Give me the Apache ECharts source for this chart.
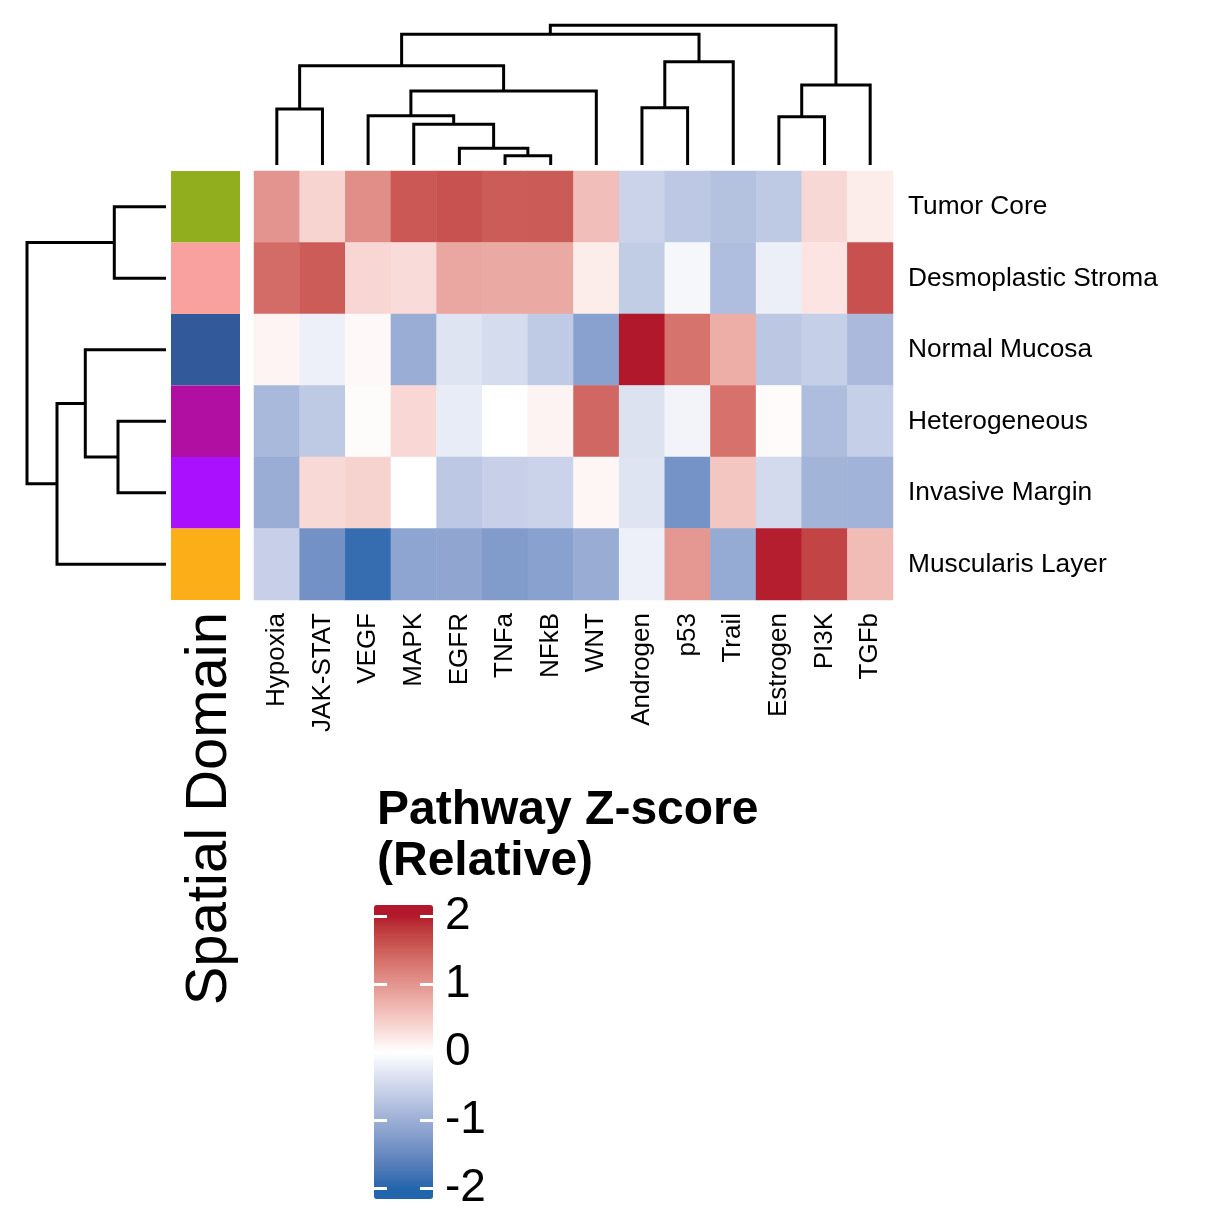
<!DOCTYPE html>
<html><head><meta charset="utf-8">
<script src="https://cdn.jsdelivr.net/npm/echarts@6/dist/echarts.min.js"></script>
<style>html,body{margin:0;padding:0;background:#fff}#c{width:1225px;height:1225px}</style>
</head><body><div id="c"></div>
<script>
// ---------------- data ----------------
const pathways = ['Hypoxia','JAK-STAT','VEGF','MAPK','EGFR','TNFa','NFkB','WNT','Androgen','p53','Trail','Estrogen','PI3K','TGFb'];
const domains = ['Tumor Core','Desmoplastic Stroma','Normal Mucosa','Heterogeneous','Invasive Margin','Muscularis Layer'];
const domainColors = ['#91ae1e','#f8a19f','#325a9b','#b10ea2','#aa10fe','#fbae17'];

const zTumorCore          = [1.00, 0.40, 1.06, 1.55, 1.60, 1.52, 1.53, 0.61, -0.54, -0.67, -0.76, -0.66, 0.36, 0.17];
const zDesmoplastic       = [1.38, 1.52, 0.38, 0.33, 0.83, 0.80, 0.80, 0.17, -0.63, -0.10, -0.81, -0.19, 0.25, 1.61];
const zNormalMucosa       = [0.10, -0.18, 0.06, -1.02, -0.33, -0.43, -0.65, -1.19, 2.00, 1.31, 0.76, -0.69, -0.59, -0.85];
const zHeterogeneous      = [-0.87, -0.66, 0.03, 0.37, -0.23, 0.00, 0.11, 1.42, -0.35, -0.13, 1.33, 0.04, -0.82, -0.59];
const zInvasiveMargin     = [-1.02, 0.35, 0.41, 0.00, -0.67, -0.57, -0.54, 0.09, -0.33, -1.37, 0.53, -0.45, -0.94, -0.95];
const zMuscularis         = [-0.57, -1.40, -1.90, -1.13, -1.12, -1.27, -1.19, -1.04, -0.18, 0.97, -1.06, 1.97, 1.72, 0.63];
const zRows = [zTumorCore, zDesmoplastic, zNormalMucosa, zHeterogeneous, zInvasiveMargin, zMuscularis];

const legendTicks = [-2, -1, 0, 1, 2];

// dendrogram merges: [child, child, height]; child = leaf name or index of earlier merge
const colMerges = [
  ['TNFa', 'NFkB', 0.93],
  ['EGFR', 0, 1.67],
  ['MAPK', 1, 4.07],
  ['VEGF', 2, 4.93],
  [3, 'WNT', 7.40],
  ['Hypoxia', 'JAK-STAT', 5.60],
  [5, 4, 9.93],
  ['Androgen', 'p53', 5.73],
  [7, 'Trail', 10.33],
  [6, 8, 13.07],
  ['Estrogen', 'PI3K', 4.83],
  [10, 'TGFb', 8.00],
  [9, 11, 13.97]
];
const rowMerges = [
  ['Tumor Core', 'Desmoplastic Stroma', 5.17],
  ['Heterogeneous', 'Invasive Margin', 4.80],
  ['Normal Mucosa', 1, 8.07],
  [2, 'Muscularis Layer', 10.90],
  [0, 3, 13.90]
];

// ---------------- helpers ----------------
function toLin(c){c/=255;return c<=0.04045?c/12.92:Math.pow((c+0.055)/1.055,2.4);}
function toS(c){c=c<=0.0031308?12.92*c:1.055*Math.pow(c,1/2.4)-0.055;return Math.round(Math.max(0,Math.min(1,c))*255);}
const XN=0.95047, YN=1, ZN=1.08883;
function hexToLab(h){
  const r=toLin(parseInt(h.substr(1,2),16)), g=toLin(parseInt(h.substr(3,2),16)), b=toLin(parseInt(h.substr(5,2),16));
  const X=(0.4124*r+0.3576*g+0.1805*b)/XN, Y=(0.2126*r+0.7152*g+0.0722*b)/YN, Z=(0.0193*r+0.1192*g+0.9505*b)/ZN;
  const f=t=>t>0.008856?Math.cbrt(t):7.787*t+16/116;
  const fx=f(X), fy=f(Y), fz=f(Z);
  return [116*fy-16, 500*(fx-fy), 200*(fy-fz)];
}
function labToHex(l){
  const fy=(l[0]+16)/116, fx=fy+l[1]/500, fz=fy-l[2]/200;
  const fi=t=>t*t*t>0.008856?t*t*t:(t-16/116)/7.787;
  const X=fi(fx)*XN, Y=fi(fy)*YN, Z=fi(fz)*ZN;
  const r=3.2406*X-1.5372*Y-0.4986*Z, g=-0.9689*X+1.8758*Y+0.0415*Z, b=0.0557*X-0.2040*Y+1.0570*Z;
  return '#'+[r,g,b].map(v=>toS(v).toString(16).padStart(2,'0')).join('');
}
const labBlue=hexToLab('#2166AC'), labWhite=hexToLab('#FFFFFF'), labRed=hexToLab('#B2182B');
function mix(a,b,t){return [a[0]+(b[0]-a[0])*t,a[1]+(b[1]-a[1])*t,a[2]+(b[2]-a[2])*t];}
function colorAt(v){
  v=Math.max(-2,Math.min(2,v));
  return v<0?labToHex(mix(labBlue,labWhite,(v+2)/2)):labToHex(mix(labWhite,labRed,v/2));
}
const VMIN=-2.16, VMAX=2.16;
const rampColors=[];
for(let i=0;i<=108;i++){rampColors.push(colorAt(VMIN+(VMAX-VMIN)*i/108));}

function buildTree(leaves, merges){
  const nodes=[];
  const info=c=>typeof c==='string'?{p:leaves.indexOf(c)+0.5,h:0}:nodes[c];
  const segs=[];
  merges.forEach(m=>{
    const a=info(m[0]), b=info(m[1]);
    segs.push([a.p,a.h,b.p,b.h,m[2]]);
    nodes.push({p:(a.p+b.p)/2,h:m[2]});
  });
  return segs;
}
const colSegs=buildTree(pathways,colMerges);
const rowSegs=buildTree(domains,rowMerges);

const heatData=[];
zRows.forEach((row,ri)=>row.forEach((v,ci)=>heatData.push([ci,ri,v])));

const FONT='"Liberation Sans", Arial, Helvetica, sans-serif';

function dendroRender(vertical){
  return function(params, api){
    const pl=api.value(0), hl=api.value(1), pr=api.value(2), hr=api.value(3), h=api.value(4);
    const c=vertical?(p,hh)=>api.coord([hh,p]):(p,hh)=>api.coord([p,hh]);
    return {type:'polyline',shape:{points:[c(pl,hl),c(pl,h),c(pr,h),c(pr,hr)]},
      style:{stroke:'#000',lineWidth:3,fill:null,lineCap:'butt',lineJoin:'miter'}};
  };
}

const chart=echarts.init(document.getElementById('c'),null,{renderer:'canvas'});
chart.setOption({
  backgroundColor:'#fff',
  animation:false,
  title:{text:'Pathway Z-score\n(Relative)',left:377,top:785,padding:0,
    textStyle:{fontSize:48,fontWeight:'bold',lineHeight:51,color:'#000',fontFamily:FONT}},
  grid:[
    {left:254,top:171,width:639,height:429,outerBoundsMode:'none'},
    {left:171,top:171,width:69,height:429,outerBoundsMode:'none'},
    {left:254,top:25,width:639,height:140,outerBoundsMode:'none'},
    {left:26,top:171,width:140,height:429,outerBoundsMode:'none'},
    {left:374,top:905,width:59,height:294,outerBoundsMode:'none'}
  ],
  xAxis:[
    {gridIndex:0,type:'category',data:pathways,position:'bottom',axisLine:{show:false},axisTick:{show:false},splitLine:{show:false},
      axisLabel:{rotate:90,margin:13,fontSize:26,color:'#000',fontFamily:FONT,interval:0}},
    {gridIndex:1,type:'category',data:['Spatial Domain'],show:false},
    {gridIndex:2,type:'value',min:0,max:14,show:false},
    {gridIndex:3,type:'value',min:0,max:14,inverse:true,show:false},
    {gridIndex:4,type:'value',min:0,max:1,show:false}
  ],
  yAxis:[
    {gridIndex:0,type:'category',data:domains,inverse:true,position:'right',axisLine:{show:false},axisTick:{show:false},splitLine:{show:false},
      axisLabel:{margin:15,fontSize:26.3,color:'#000',fontFamily:FONT,interval:0,padding:[5,0,0,0]}},
    {gridIndex:1,type:'category',data:domains,inverse:true,show:false},
    {gridIndex:2,type:'value',min:0,max:14,show:false},
    {gridIndex:3,type:'value',min:0,max:6,inverse:true,show:false},
    {gridIndex:4,type:'value',min:VMIN,max:VMAX,position:'left',z:10,axisLine:{show:false},splitLine:{show:false},
      axisTick:{show:true,inside:true,length:13,customValues:legendTicks,lineStyle:{color:'#fff',width:3}},
      axisLabel:{show:false}},
    {gridIndex:4,type:'value',min:VMIN,max:VMAX,position:'right',z:10,axisLine:{show:false},splitLine:{show:false},
      axisTick:{show:true,inside:true,length:13,customValues:legendTicks,lineStyle:{color:'#fff',width:3}},
      axisLabel:{show:true,customValues:legendTicks,margin:12,fontSize:46,color:'#000',fontFamily:FONT,padding:[6,0,0,0]}}
  ],
  visualMap:{type:'continuous',seriesIndex:0,dimension:2,min:VMIN,max:VMAX,calculable:false,
    orient:'vertical',left:374,top:905,itemWidth:59,itemHeight:294,padding:0,text:null,
    inRange:{color:rampColors},textStyle:{color:'transparent'}},
  graphic:[
    {type:'text',x:210,y:612,rotation:Math.PI/2,
      style:{text:'Spatial Domain',fontSize:58,fontFamily:FONT,fill:'#000',align:'right',verticalAlign:'middle'}}
  ],
  series:[
    {type:'heatmap',xAxisIndex:0,yAxisIndex:0,data:heatData,emphasis:{disabled:true},itemStyle:{borderWidth:0}},
    {type:'custom',xAxisIndex:1,yAxisIndex:1,data:domains.map((d,i)=>[0,i]),
      renderItem:function(params,api){
        const p=api.coord([api.value(0),api.value(1)]), s=api.size([1,1]);
        return {type:'rect',shape:{x:p[0]-s[0]/2,y:p[1]-s[1]/2,width:s[0],height:s[1]},
          style:{fill:domainColors[params.dataIndex]}};
      }},
    {type:'custom',xAxisIndex:2,yAxisIndex:2,data:colSegs,renderItem:dendroRender(false),clip:false,encode:{x:[0,2],y:[1,3,4]}},
    {type:'custom',xAxisIndex:3,yAxisIndex:3,data:rowSegs,renderItem:dendroRender(true),clip:false,encode:{x:[1,3,4],y:[0,2]}}
  ]
});
</script></body></html>
